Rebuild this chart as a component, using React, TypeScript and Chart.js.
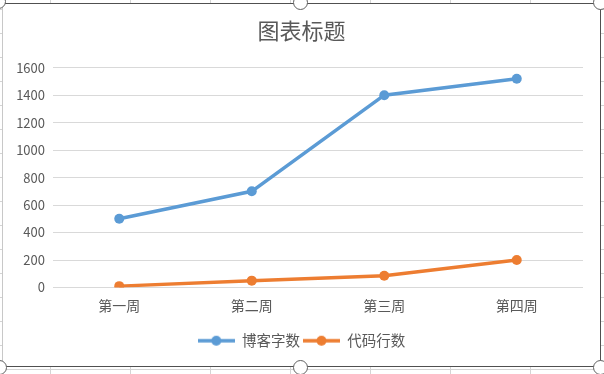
import React, { useEffect, useRef } from "react";
import { Chart, registerables } from "chart.js";

Chart.register(...registerables);

const chartTitle = "图表标题";
const categories = ["第一周", "第二周", "第三周", "第四周"];
const seriesNames = ["博客字数", "代码行数"];
const blogWords = [500, 700, 1400, 1520];
const codeLines = [10, 50, 85, 200];
const yMin = 0;
const yMax = 1600;
const yStep = 200;

const BLUE = "#5B9BD5";
const ORANGE = "#ED7D31";
const TEXT = "#595959";
const GRID = "#D9D9D9";
const FONT = "'Noto Sans CJK SC', 'Noto Sans', sans-serif";

function makeMarker(color: string): HTMLCanvasElement {
  const c = document.createElement("canvas");
  c.width = 37;
  c.height = 12;
  const ctx = c.getContext("2d")!;
  ctx.strokeStyle = color;
  ctx.lineWidth = 3.5;
  ctx.lineCap = "butt";
  ctx.beginPath();
  ctx.moveTo(0, 6);
  ctx.lineTo(37, 6);
  ctx.stroke();
  ctx.fillStyle = color;
  ctx.beginPath();
  ctx.arc(18.5, 6, 5, 0, Math.PI * 2);
  ctx.fill();
  return c;
}

const sheetCols = [50, 130, 210, 290, 370, 450, 530];
const sheetRows = [9, 33, 57, 81, 105, 129, 153, 177, 201, 225, 249, 273, 297, 321, 345, 369];
const handles: [number, number][] = [
  [-2, 1], [300, 2], [600, 2],
  [-1, 367], [300, 367], [600, 367],
];

export default function App() {
  const ref = useRef<HTMLCanvasElement | null>(null);

  useEffect(() => {
    if (!ref.current) return;
    const markers = [makeMarker(BLUE), makeMarker(ORANGE)];
    const chart = new Chart(ref.current, {
      type: "line",
      data: {
        labels: categories,
        datasets: [
          {
            label: seriesNames[0],
            data: blogWords,
            borderColor: BLUE,
            backgroundColor: BLUE,
            borderWidth: 3.5,
            pointRadius: 5,
            pointBorderWidth: 0,
            pointBackgroundColor: BLUE,
            tension: 0,
          },
          {
            label: seriesNames[1],
            data: codeLines,
            borderColor: ORANGE,
            backgroundColor: ORANGE,
            borderWidth: 3.5,
            pointRadius: 5,
            pointBorderWidth: 0,
            pointBackgroundColor: ORANGE,
            tension: 0,
          },
        ],
      },
      options: {
        animation: false,
        responsive: false,
        maintainAspectRatio: false,
        layout: { padding: { left: 0, right: 0, top: 0, bottom: 8 } },
        plugins: {
          tooltip: { enabled: false },
          title: {
            display: true,
            text: chartTitle,
            color: TEXT,
            font: { family: FONT, size: 22, weight: "normal" as any, lineHeight: 1.2 },
            padding: { top: 13.6, bottom: 23.7 },
          },
          legend: {
            display: true,
            position: "bottom",
            labels: {
              color: TEXT,
              font: { family: FONT, size: 14.5 },
              usePointStyle: true,
              pointStyleWidth: 37,
              boxHeight: 12,
              padding: 3,
              generateLabels: (c: any) => {
                const items = (Chart.defaults.plugins.legend.labels as any).generateLabels(c);
                return items.map((it: any, i: number) => ({ ...it, pointStyle: markers[i] }));
              },
            },
          },
        },
        scales: {
          x: {
            type: "category",
            offset: true,
            grid: { display: false, drawTicks: false },
            border: { display: false },
            ticks: { color: TEXT, font: { family: FONT, size: 14 }, padding: 10, maxRotation: 0 },
            afterFit: (s: any) => { s.height = 43; },
          },
          y: {
            min: yMin,
            max: yMax,
            grid: { color: GRID, lineWidth: 1, drawTicks: false },
            border: { display: false },
            ticks: {
              stepSize: yStep,
              color: TEXT,
              font: { family: FONT, size: 13 },
              padding: 8,
              callback: (v: any) => String(v),
            },
            afterFit: (s: any) => { s.width = 50; },
          },
          yPad: {
            type: "linear",
            position: "right",
            display: true,
            min: yMin,
            max: yMax,
            grid: { display: false, drawTicks: false },
            border: { display: false },
            ticks: { display: false },
            afterFit: (s: any) => { s.width = 17; },
          },
        },
      },
    } as any);
    return () => chart.destroy();
  }, []);

  return (
    <div style={{ position: "fixed", left: 0, top: 0, width: 604, height: 374, background: "#fff", overflow: "hidden" }}>
      {sheetCols.map((x) => (
        <div key={"c" + x} style={{ position: "absolute", left: x, top: 0, width: 1, height: 374, background: "#D4D4D4" }} />
      ))}
      {sheetRows.map((y) => (
        <div key={"r" + y} style={{ position: "absolute", left: 0, top: y, width: 604, height: 1, background: "#D4D4D4" }} />
      ))}
      <div style={{ position: "absolute", left: 3, top: 4, width: 597, height: 362, background: "#fff" }}>
        <canvas ref={ref} width={597} height={362} style={{ display: "block", width: 597, height: 362 }} />
      </div>
      <div style={{ position: "absolute", left: 2, top: 3, width: 1, height: 364, background: "#C8C8C8" }} />
      <div style={{ position: "absolute", left: 2, top: 3, width: 599, height: 1, background: "#505050" }} />
      <div style={{ position: "absolute", left: 2, top: 366, width: 599, height: 1, background: "#505050" }} />
      <div style={{ position: "absolute", left: 600, top: 3, width: 1, height: 364, background: "#505050" }} />
      {handles.map(([x, y], i) => (
        <div
          key={"h" + i}
          style={{
            position: "absolute",
            left: x - 7,
            top: y - 7,
            width: 13,
            height: 13,
            borderRadius: "50%",
            border: "1px solid #606060",
            background: "#fff",
          }}
        />
      ))}
    </div>
  );
}
